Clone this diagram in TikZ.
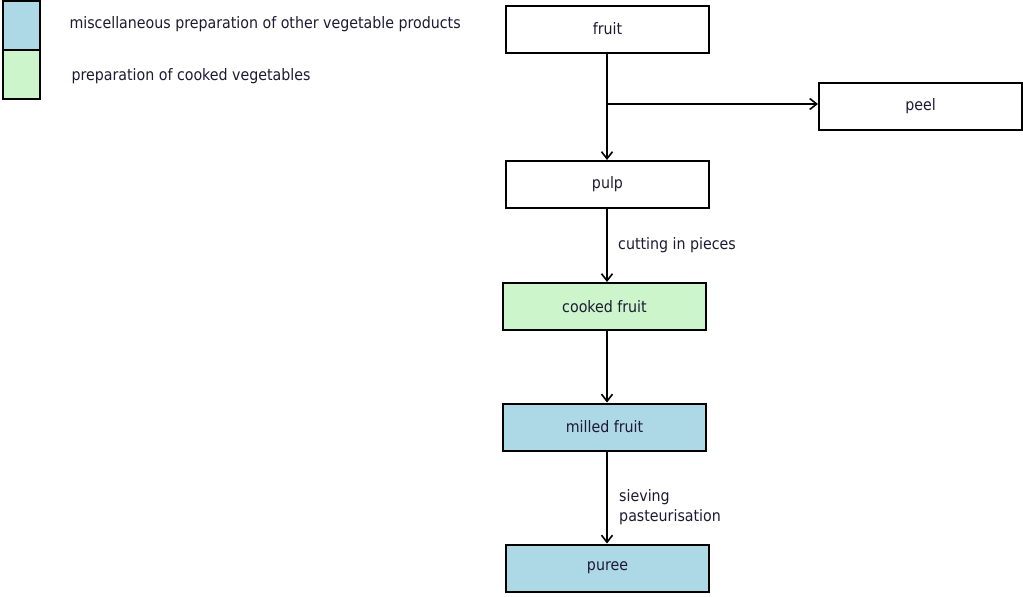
\documentclass[tikz,border=0pt]{standalone}
\usepackage{fontspec}
\setmainfont{DejaVu Sans Condensed}
\usetikzlibrary{arrows.meta}
\definecolor{miscblue}{RGB}{173,216,230}
\definecolor{cookgreen}{RGB}{204,245,204}
\definecolor{txt}{RGB}{30,25,50}
\tikzset{
  x=1pt,y=-1pt,
  box/.style={draw=black,line width=2pt,minimum width=203pt,minimum height=47pt,inner sep=0pt,font=\fontsize{15.8}{18}\selectfont,text=txt},
  flow/.style={line width=1.8pt,-{Straight Barb[length=7pt,width=11pt,line width=1.6pt]}},
  lbl/.style={font=\fontsize{15.8}{20}\selectfont,anchor=west,text=txt,align=left},
  legbox/.style={draw=black,line width=2pt,minimum width=37pt,minimum height=49pt,inner sep=0pt}
}
\begin{document}
\begin{tikzpicture}
\useasboundingbox (0,0) rectangle (1023,597);
% legend
\node[legbox,fill=miscblue] (lb) at (21.5,25) {};
\node[legbox,fill=cookgreen] (lg) at (21.5,74.5) {};
\node[lbl] (lbt) at (66,24) {miscellaneous preparation of other vegetable products};
\node[lbl] (lgt) at (68,76) {preparation of cooked vegetables};
% nodes
\node[box] (fruit) at (607.5,29) {fruit};
\node[box] (peel) at (920.5,106) {peel};
\node[box] (pulp) at (607.5,184.5) {pulp};
\node[box,fill=cookgreen] (cooked) at (604.5,306.5) {cooked fruit};
\node[box,fill=miscblue] (milled) at (604.5,427) {milled fruit};
\node[box,fill=miscblue] (puree) at (607.5,568) {puree};
% connectors
\coordinate (br) at (607,104);
\draw[flow] (fruit.south -| br) -- (pulp.north -| br);
\draw[flow] (br) -- (peel.west |- br);
\draw[flow] (pulp.south -| br) -- (cooked.north -| br) node[lbl,pos=0.49,xshift=7pt] (c1) {cutting in pieces};
\draw[flow] (cooked.south -| br) -- (milled.north -| br);
\draw[flow] (milled.south -| br) -- (puree.north -| br) node[lbl,pos=0.6,xshift=8pt] (c2) {sieving\\pasteurisation};
\end{tikzpicture}
\end{document}
